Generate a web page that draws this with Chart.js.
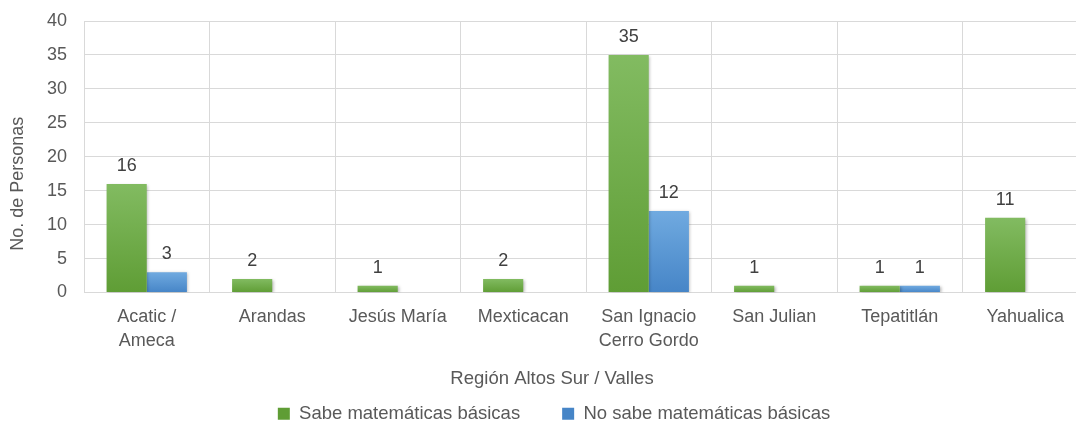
<!DOCTYPE html>
<html><head><meta charset="utf-8">
<script src="https://cdn.jsdelivr.net/npm/chart.js@4.4.1/dist/chart.umd.min.js"></script>
<style>
html,body{margin:0;padding:0;background:#fff;overflow:hidden;width:1076px;height:423px}
#wrap{width:1106px;height:433px}
canvas{display:block}
</style></head><body>
<div id="wrap"><canvas id="c" width="1106" height="433"></canvas></div>
<script>
const categories = [["Acatic /","Ameca"],"Arandas","Jesús María","Mexticacan",["San Ignacio","Cerro Gordo"],"San Julian","Tepatitlán","Yahualica"];
const sabe = [16,2,1,2,35,1,1,11];
const noSabe = [3,0,0,0,12,0,1,0];
const seriesNames = ["Sabe matemáticas básicas","No sabe matemáticas básicas"];
const yMin = 0, yMax = 40, yStep = 5;
const xTitle = "Región Altos Sur / Valles";
const yTitle = "No. de Personas";

const FONT = "'Liberation Sans', Arial, sans-serif";
const TXT = '#595959';
const GRID = '#d9d9d9';

function grad(top, bottom){
  return (ctx)=>{
    const c = ctx.chart, ys = c.scales && c.scales.y;
    if (ctx.type !== 'data' || !ys || !c.chartArea) return bottom;
    const v = ctx.parsed ? ctx.parsed.y : ctx.raw;
    const y1 = ys.getPixelForValue(v), y0 = ys.getPixelForValue(0);
    if (!isFinite(y1) || !isFinite(y0) || y1 === y0) return bottom;
    const g = c.ctx.createLinearGradient(0, y1, 0, y0);
    g.addColorStop(0, top); g.addColorStop(1, bottom);
    return g;
  };
}

const barShadow = {
  id:'barShadow',
  beforeDatasetsDraw(chart){ const c=chart.ctx; c.save(); c.shadowColor='rgba(0,0,0,0.28)'; c.shadowBlur=3; c.shadowOffsetX=1.5; c.shadowOffsetY=1; },
  afterDatasetsDraw(chart){ chart.ctx.restore(); }
};

const valueLabels = {
  id:'valueLabels',
  afterDatasetsDraw(chart){
    const c = chart.ctx; c.save();
    c.font = '18px ' + FONT; c.fillStyle = '#404040'; c.textAlign = 'center'; c.textBaseline = 'alphabetic';
    chart.data.datasets.forEach((ds,i)=>{
      chart.getDatasetMeta(i).data.forEach((el,j)=>{
        const v = ds.data[j];
        if (v > 0) c.fillText(String(v), el.x, el.y - 13);
      });
    });
    c.restore();
  }
};

const axisTitles = {
  id:'axisTitles',
  afterDraw(chart){
    const a = chart.chartArea, c = chart.ctx;
    c.save();
    c.font = '18.5px ' + FONT; c.fillStyle = TXT; c.textAlign = 'center'; c.textBaseline = 'middle';
    c.fillText(xTitle, chart.width/2 - 1, a.bottom + 86);
    c.font = '18px ' + FONT;
    c.translate(a.left - 66, (a.top + a.bottom)/2 + 27);
    c.rotate(-Math.PI/2);
    c.fillText(yTitle, 0, 0);
    c.restore();
  }
};

new Chart(document.getElementById('c'), {
  type:'bar',
  data:{
    labels: categories,
    datasets:[
      {label: seriesNames[0], data: sabe, backgroundColor: grad('#82bb61','#5f9d35'), categoryPercentage:0.64, barPercentage:1},
      {label: seriesNames[1], data: noSabe, backgroundColor: grad('#70aae0','#4685c7'), categoryPercentage:0.64, barPercentage:1}
    ]
  },
  options:{
    responsive:false, animation:false, devicePixelRatio:1,
    layout:{padding:{top:21, right:18, left:20, bottom:0}},
    scales:{
      x:{
        grid:{color:GRID, drawTicks:false, offset:true},
        border:{color:GRID},
        ticks:{color:TXT, font:{family:FONT, size:18, lineHeight:1.33}, padding:13, maxRotation:0, autoSkip:false},
        afterFit(s){ s.height = 70; s.paddingLeft = 0; s.paddingRight = 0; }
      },
      y:{
        min:yMin, max:yMax,
        grid:{color:GRID, drawTicks:false},
        border:{color:GRID},
        ticks:{stepSize:yStep, color:TXT, font:{family:FONT, size:18}, padding:17},
        afterFit(s){ s.width = 64; s.paddingTop = 0; s.paddingBottom = 0; }
      }
    },
    plugins:{
      legend:{position:'bottom', labels:{boxWidth:12, boxHeight:12, color:TXT, font:{family:FONT, size:18.5}, padding:42}},
      title:{display:false},
      tooltip:{enabled:false}
    }
  },
  plugins:[barShadow, valueLabels, axisTitles]
});
</script>
</body></html>
